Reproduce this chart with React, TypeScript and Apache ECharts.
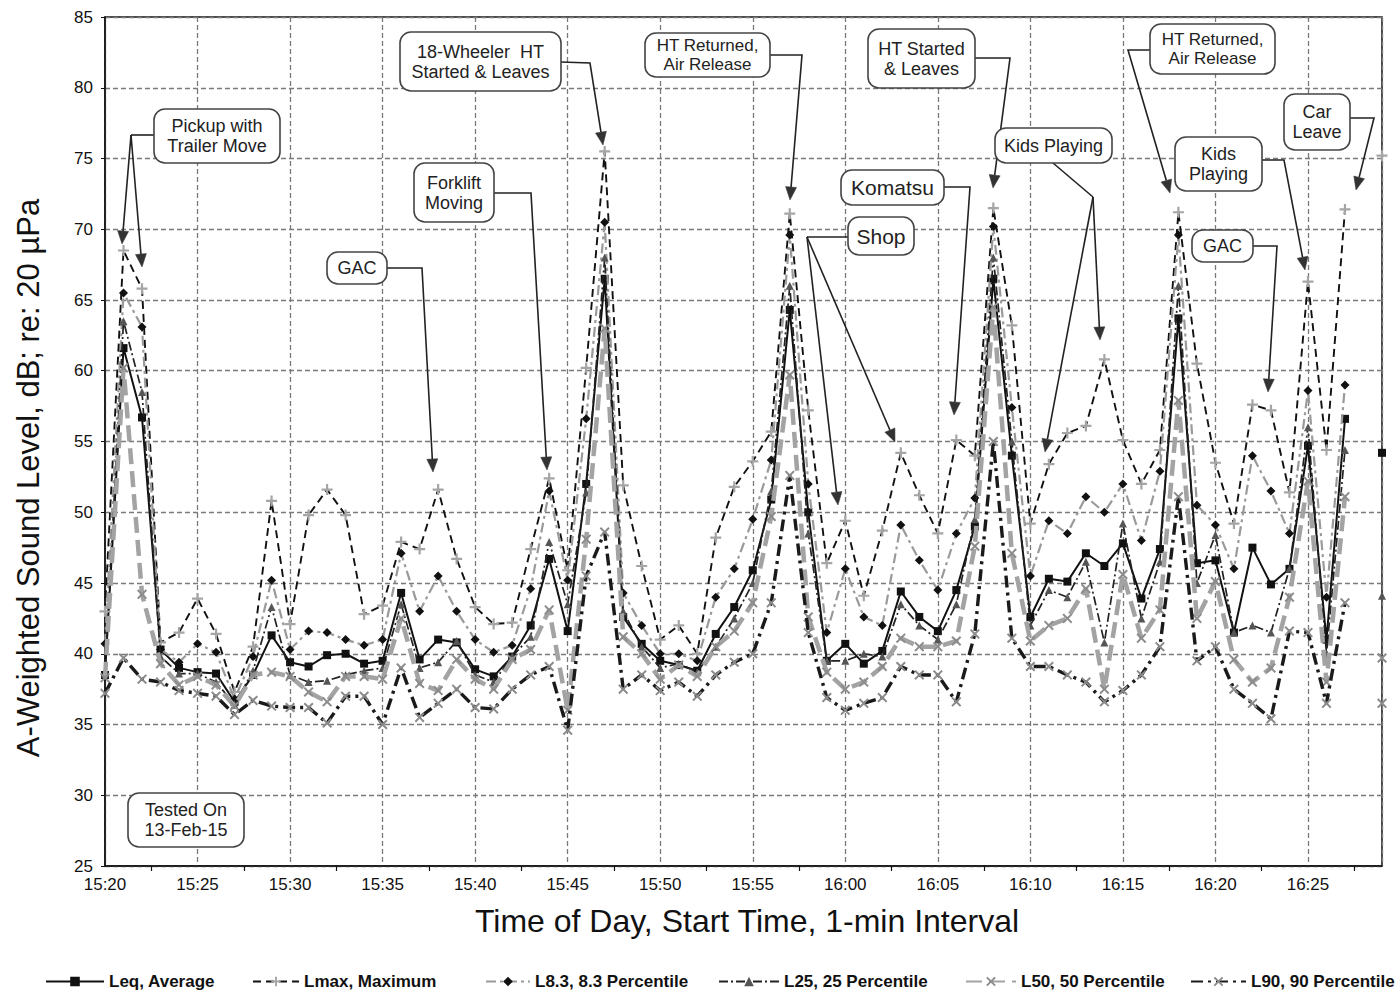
import React, { useEffect, useRef } from 'react';
import * as echarts from 'echarts';

// ---- data (minutes since 15:20, 1-min interval) ----
const X_TICK_LABELS = ['15:20', '15:25', '15:30', '15:35', '15:40', '15:45', '15:50', '15:55', '16:00', '16:05', '16:10', '16:15', '16:20', '16:25'];

const LEQ = [38.5, 61.6, 56.7, 40.3, 39.0, 38.7, 38.6, 36.6, 38.5, 41.3, 39.4, 39.1, 39.9, 40.0, 39.3, 39.5, 44.3, 39.6, 41.0, 40.8, 38.9, 38.4, 39.8, 42.0, 46.7, 41.6, 52.0, 66.5, 42.6, 40.7, 39.5, 39.2, 38.8, 41.4, 43.3, 45.9, 50.9, 64.3, 50.0, 39.5, 40.7, 39.3, 40.2, 44.4, 42.6, 41.6, 44.5, 49.0, 66.5, 54.0, 42.6, 45.3, 45.1, 47.1, 46.2, 47.8, 43.9, 47.4, 63.7, 46.4, 46.6, 41.5, 47.5, 44.9, 46.0, 54.7, 41.0, 56.6, null, 54.2];
const LMAX = [43.0, 68.5, 65.8, 40.8, 41.5, 43.9, 41.4, 37.3, 40.5, 50.8, 42.1, 49.8, 51.6, 49.8, 42.8, 43.4, 47.9, 47.4, 51.6, 46.7, 43.3, 42.1, 42.2, 47.4, 52.4, 45.9, 60.2, 75.5, 51.9, 46.2, 41.0, 42.0, 40.0, 48.2, 51.8, 53.6, 55.7, 71.1, 57.2, 46.4, 49.4, 44.1, 48.7, 54.2, 51.2, 48.5, 55.1, 54.0, 71.5, 63.2, 49.2, 53.4, 55.6, 56.1, 60.8, 55.1, 52.0, 54.4, 71.2, 60.5, 53.5, 49.2, 57.6, 57.2, 51.4, 66.3, 54.4, 71.4, null, 75.2];
const L83 = [40.7, 65.5, 63.1, 40.3, 39.4, 40.7, 40.1, 36.8, 39.8, 45.2, 40.3, 41.6, 41.5, 41.0, 40.6, 41.0, 47.1, 43.0, 45.5, 43.0, 41.0, 40.1, 40.6, 44.6, 51.5, 45.2, 56.6, 70.5, 44.3, 42.0, 40.0, 40.0, 39.5, 44.0, 46.0, 49.5, 53.7, 69.6, 52.0, 41.5, 46.0, 42.6, 42.0, 49.1, 46.6, 44.5, 48.5, 51.0, 70.2, 57.4, 45.5, 49.4, 48.5, 51.1, 50.0, 52.0, 48.0, 52.9, 69.6, 50.5, 49.1, 46.0, 54.0, 51.5, 48.5, 58.6, 44.0, 59.0, null, null];
const L25 = [38.6, 63.5, 58.5, 39.8, 38.6, 38.6, 38.0, 36.4, 38.8, 43.3, 38.5, 38.0, 38.1, 38.5, 38.8, 39.0, 43.5, 39.0, 39.4, 40.9, 38.5, 38.0, 39.8, 41.2, 47.9, 43.5, 51.4, 68.0, 43.0, 40.5, 39.0, 39.3, 38.7, 40.5, 42.5, 45.0, 51.5, 66.0, 48.5, 39.5, 39.5, 40.0, 39.8, 43.5, 42.0, 41.0, 43.5, 49.5, 68.0, 55.0, 42.0, 44.5, 44.0, 46.5, 40.8, 49.2, 42.5, 46.5, 66.0, 45.0, 48.4, 41.5, 42.0, 41.5, 46.0, 56.0, 40.0, 54.4, null, 44.1];
const L50 = [38.3, 60.2, 44.2, 39.3, 37.8, 38.4, 37.8, 36.3, 38.5, 38.7, 38.4, 37.3, 36.6, 38.4, 38.4, 38.2, 42.5, 37.9, 37.4, 39.6, 38.2, 37.5, 39.6, 40.3, 43.1, 36.0, 48.1, 63.0, 41.2, 40.0, 38.2, 39.2, 38.4, 40.5, 41.6, 43.6, 49.7, 59.7, 42.6, 38.7, 37.5, 38.0, 39.1, 41.1, 40.5, 40.5, 40.9, 47.6, 64.5, 47.1, 40.9, 42.0, 42.5, 44.6, 37.5, 45.6, 41.1, 43.1, 57.9, 42.5, 45.1, 39.6, 38.0, 39.0, 44.0, 52.2, 38.0, 51.1, null, 39.7];
const L90 = [37.2, 39.7, 38.2, 38.0, 37.4, 37.2, 37.0, 35.7, 36.7, 36.3, 36.2, 36.2, 35.1, 37.0, 37.0, 35.0, 39.0, 35.5, 36.5, 37.5, 36.2, 36.1, 37.5, 38.5, 39.1, 34.6, 45.5, 48.6, 37.5, 38.5, 37.4, 38.0, 37.0, 38.5, 39.4, 40.0, 43.6, 52.6, 41.5, 36.9, 36.0, 36.5, 36.9, 39.1, 38.5, 38.5, 36.6, 41.4, 55.0, 41.1, 39.1, 39.1, 38.5, 38.0, 36.6, 37.4, 38.5, 40.5, 51.1, 39.5, 40.5, 37.5, 36.5, 35.4, 41.6, 41.5, 36.5, 43.6, null, 36.5];

const SERIES_NAMES = ['Leq, Average', 'Lmax, Maximum', 'L8.3, 8.3 Percentile', 'L25, 25 Percentile', 'L50, 50 Percentile', 'L90, 90 Percentile'];

// ---- styles ----
const FONT = "'Liberation Sans', Arial, sans-serif";
const LEGEND_FONT = "'Liberation Sans Narrow', 'Liberation Sans', Arial, sans-serif";
const PLUS = 'path://M4,0H6V4H10V6H6V10H4V6H0V4H4Z';
const CROSS = 'path://M0,1.4L1.4,0L5,3.6L8.6,0L10,1.4L6.4,5L10,8.6L8.6,10L5,6.4L1.4,10L0,8.6L3.6,5Z';

const STYLES = [
  { data: LEQ, line: { width: 2, type: 'solid', color: '#111' }, symbol: 'rect', size: 8, sym: '#111' },
  { data: LMAX, line: { width: 1.9, type: [8, 5], color: '#111' }, symbol: PLUS, size: 11, sym: '#a5a5a5' },
  { data: L83, line: { width: 2.2, type: [10, 4, 3, 4], color: '#9a9a9a' }, symbol: 'diamond', size: 9, sym: '#111' },
  { data: L25, line: { width: 1.7, type: [9, 3, 2, 3], color: '#222' }, symbol: 'triangle', size: 8, sym: '#555' },
  { data: L50, line: { width: 4.5, type: [16, 7], color: '#a3a3a3' }, symbol: CROSS, size: 10, sym: '#8c8c8c' },
  { data: L90, line: { width: 3.4, type: [12, 5, 3, 5], color: '#1a1a1a' }, symbol: CROSS, size: 10, sym: '#8a8a8a' },
];

const LEGEND_LEFT = [40, 247, 480, 713, 960, 1185];
const LEGEND_ICON_W = [58, 46, 44, 60, 50, 55];

// annotation boxes (page pixels) and arrow paths
const NOTES: { text: string; box: number[]; fs?: number; lines?: number[][][]; arrows?: number[][][] }[] = [
  { text: 'Pickup with\nTrailer Move', box: [154, 109, 126, 54], lines: [[[154, 135], [131, 135]]], arrows: [[[131, 135], [122, 244]], [[131, 135], [142, 267]]] },
  { text: 'GAC', box: [327, 252, 60, 32], arrows: [[[387, 268], [422, 268], [433, 472]]] },
  { text: 'Forklift\nMoving', box: [414, 163, 80, 59], arrows: [[[494, 193], [531, 193], [547, 470]]] },
  { text: '18-Wheeler  HT\nStarted & Leaves', box: [400, 32, 161, 59], arrows: [[[561, 62], [590, 63], [603, 145]]] },
  { text: 'HT Returned,\nAir Release', box: [645, 33, 125, 44], fs: 17, arrows: [[[770, 55], [802, 55], [790, 200]]] },
  { text: 'Shop', box: [848, 217, 66, 38], fs: 21, lines: [[[848, 237], [807, 237]]], arrows: [[[807, 237], [838, 505]], [[807, 237], [895, 442]]] },
  { text: 'Komatsu', box: [841, 170, 103, 35], fs: 21, arrows: [[[944, 187], [970, 187], [954, 415]]] },
  { text: 'HT Started\n& Leaves', box: [868, 29, 107, 59], arrows: [[[975, 58], [1010, 58], [993, 188]]] },
  { text: 'Kids Playing', box: [995, 128, 117, 35], lines: [[[1053, 163], [1093, 197]]], arrows: [[[1093, 197], [1045, 452]], [[1093, 197], [1100, 340]]] },
  { text: 'HT Returned,\nAir Release', box: [1150, 24, 125, 50], fs: 17, arrows: [[[1150, 50], [1128, 50], [1170, 193]]] },
  { text: 'Kids\nPlaying', box: [1175, 137, 87, 54], arrows: [[[1262, 160], [1284, 160], [1305, 270]]] },
  { text: 'GAC', box: [1192, 230, 61, 32], arrows: [[[1253, 246], [1277, 246], [1268, 392]]] },
  { text: 'Car\nLeave', box: [1284, 94, 66, 56], arrows: [[[1350, 118], [1374, 118], [1356, 190]]] },
  { text: 'Tested On\n13-Feb-15', box: [128, 793, 116, 54] },
];

function arrowEls(pts: number[][]) {
  const n = pts.length;
  const [tx, ty] = pts[n - 1];
  const [px, py] = pts[n - 2];
  const dx = tx - px, dy = ty - py;
  const len = Math.hypot(dx, dy);
  const ux = dx / len, uy = dy / len;
  const hl = 13, hw = 5.5;
  const bx = tx - ux * hl, by = ty - uy * hl;
  const line = pts.slice(0, n - 1).concat([[bx, by]]);
  return [
    { type: 'polyline', z: 100, shape: { points: line }, style: { stroke: '#222', lineWidth: 1.6, fill: 'none' } },
    { type: 'polygon', z: 101, shape: { points: [[tx, ty], [bx - uy * hw, by + ux * hw], [bx + uy * hw, by - ux * hw]] }, style: { fill: '#333', stroke: '#333', lineWidth: 0.5 } },
  ];
}

function buildGraphics() {
  const els: any[] = [];
  NOTES.forEach((n) => {
    (n.lines || []).forEach((l) => {
      els.push({ type: 'polyline', z: 100, shape: { points: l }, style: { stroke: '#222', lineWidth: 1.6, fill: 'none' } });
    });
    (n.arrows || []).forEach((a) => els.push(...arrowEls(a)));
    const [x, y, w, h] = n.box;
    const fs = n.fs || 18;
    els.push({
      type: 'rect', z: 102,
      shape: { x, y, width: w, height: h, r: 11 },
      style: { fill: '#fff', stroke: '#444', lineWidth: 1.6 },
    });
    els.push({
      type: 'text', z: 103, x: x + w / 2, y: y + h / 2,
      style: {
        text: n.text, fill: '#222', fontSize: fs, fontFamily: FONT, lineHeight: fs + 2,
        align: 'center', verticalAlign: 'middle', textAlign: 'center', textVerticalAlign: 'middle',
      },
    });
  });
  // axis titles
  els.push({
    type: 'text', z: 103, x: 28, y: 478, rotation: Math.PI / 2,
    style: {
      text: 'A-Weighted Sound Level, dB; re: 20 µPa', fill: '#111', fontSize: 31, fontFamily: FONT,
      align: 'center', verticalAlign: 'middle', textAlign: 'center', textVerticalAlign: 'middle',
    },
  });
  els.push({
    type: 'text', z: 103, x: 747, y: 921,
    style: {
      text: 'Time of Day, Start Time, 1-min Interval', fill: '#111', fontSize: 32, fontFamily: FONT,
      align: 'center', verticalAlign: 'middle', textAlign: 'center', textVerticalAlign: 'middle',
    },
  });
  return els;
}

export default function App() {
  const ref = useRef<HTMLDivElement>(null);
  useEffect(() => {
    const chart = echarts.init(ref.current!, null, { renderer: 'svg' });
    const series = STYLES.map((s, k) => ({
      name: SERIES_NAMES[k],
      type: 'line',
      data: s.data.map((v, i) => [i, v === null ? '-' : v]),
      connectNulls: false,
      symbol: s.symbol,
      symbolSize: s.size,
      showAllSymbol: true,
      lineStyle: s.line,
      itemStyle: { color: s.sym, borderWidth: 0 },
      emphasis: { disabled: true },
      z: 2 + k,
    }));
    const option: any = {
      animation: false,
      backgroundColor: '#fff',
      textStyle: { fontFamily: FONT },
      grid: { left: 105, top: 17, width: 1277, height: 849, show: true, borderColor: '#111', borderWidth: 1.5, backgroundColor: 'transparent' },
      xAxis: {
        type: 'value', min: 0, max: 69, interval: 5,
        axisLine: { show: true, lineStyle: { color: '#111', width: 1.5 } },
        axisTick: { show: false },
        minorTick: { show: true, splitNumber: 2, length: 5, lineStyle: { color: '#111', width: 1.2 } },
        splitLine: { show: true, lineStyle: { color: '#7a7a7a', type: [5, 3], width: 1.3 } },
        axisLabel: {
          fontSize: 17, color: '#111', margin: 10, fontFamily: FONT,
          formatter: (v: number) => (v % 5 === 0 ? X_TICK_LABELS[v / 5] || '' : ''),
        },
      },
      yAxis: {
        type: 'value', min: 25, max: 85, interval: 5,
        axisLine: { show: true, lineStyle: { color: '#111', width: 1.5 } },
        axisTick: { show: true, length: 4, lineStyle: { color: '#111' } },
        splitLine: { show: true, lineStyle: { color: '#7a7a7a', type: [5, 3], width: 1.3 } },
        axisLabel: { fontSize: 17, color: '#111', margin: 12, fontFamily: FONT },
      },
      legend: SERIES_NAMES.map((name, k) => ({
        data: [name], left: LEGEND_LEFT[k], top: 968, itemWidth: LEGEND_ICON_W[k], itemHeight: 12, itemGap: 0,
        selectedMode: false,
        textStyle: { fontSize: 17, fontWeight: 'bold', color: '#111', fontFamily: LEGEND_FONT },
      })),
      series,
      graphic: { elements: buildGraphics() },
    };
    chart.setOption(option);
    return () => chart.dispose();
  }, []);
  return <div ref={ref} style={{ position: 'absolute', left: 0, top: 0, width: 1395, height: 990, background: '#fff' }} />;
}
